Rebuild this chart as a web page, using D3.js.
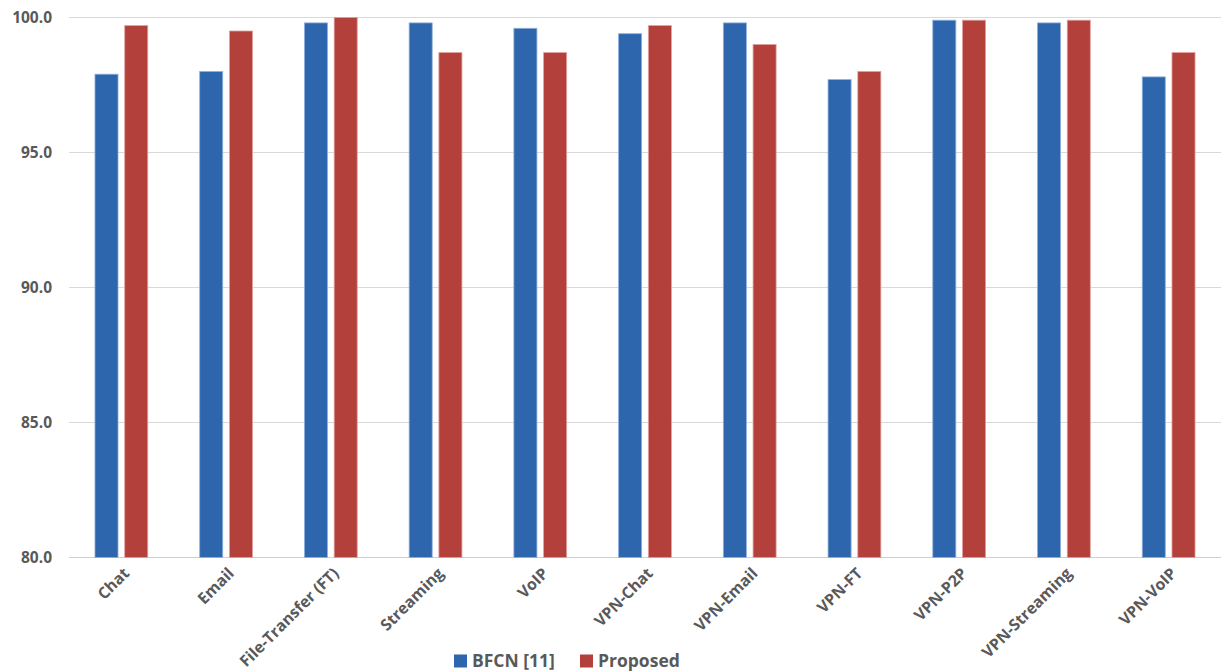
<!DOCTYPE html>
<html>
<head>
<meta charset="utf-8">
<script src="https://cdn.jsdelivr.net/npm/d3@7"></script>
<style>
  html, body { margin: 0; padding: 0; background: #fff; }
  svg { display: block; }
  text { font-family: "Open Sans", Lato, sans-serif; font-weight: 700; fill: #595959; }
</style>
</head>
<body>
<svg id="chart" width="1221" height="671"></svg>
<script>
// Traffic classes and accuracy (%) per method
const categories = ["Chat", "Email", "File-Transfer (FT)", "Streaming", "VoIP", "VPN-Chat",
                    "VPN-Email", "VPN-FT", "VPN-P2P", "VPN-Streaming", "VPN-VoIP"];
const seriesNames = ["BFCN [11]", "Proposed"];
const bfcnValues = [97.9, 98.0, 99.8, 99.8, 99.6, 99.4, 99.8, 97.7, 99.9, 99.8, 97.8];
const proposedValues = [99.7, 99.5, 100.0, 98.7, 98.7, 99.7, 99.0, 98.0, 99.9, 99.9, 98.7];
const yTicks = [80, 85, 90, 95, 100];
const colors = ["#2E66AD", "#B4403C"];

const svg = d3.select("#chart");
const margin = { left: 69, right: 0, top: 17.5, bottom: 113.5 };
const W = 1221, H = 671;
const FONT = "'Open Sans', Lato, sans-serif";

const x = d3.scaleBand().domain(categories).range([margin.left, W - margin.right]).padding(0);
const y = d3.scaleLinear().domain([80, 100]).range([H - margin.bottom, margin.top]);

const barW = x.bandwidth() * 0.22;
const gap = 6.7;

// horizontal gridlines
svg.append("g").selectAll("line").data(yTicks).join("line")
  .attr("x1", margin.left).attr("x2", W)
  .attr("y1", d => y(d)).attr("y2", d => y(d))
  .attr("stroke", d => d === 80 ? "#d0d0d0" : "#d9d9d9").attr("stroke-width", 1.2);

// y-axis labels
const yAxis = d3.axisLeft(y).tickValues(yTicks).tickFormat(d3.format(".1f")).tickSize(0).tickPadding(0);
const yg = svg.append("g").attr("transform", `translate(${52},0)`).call(yAxis);
yg.select(".domain").remove();
yg.selectAll("text").attr("font-size", 15.5).attr("dy", "0.34em")
  .style("font-family", FONT).style("font-weight", 700).attr("fill", "#595959");

// bars
const series = [bfcnValues, proposedValues];
series.forEach((vals, si) => {
  svg.append("g").selectAll("rect").data(categories).join("rect")
    .attr("x", d => {
      const c = x(d) + x.bandwidth() / 2;
      return si === 0 ? c - gap / 2 - barW : c + gap / 2;
    })
    .attr("y", (d, i) => y(vals[i]))
    .attr("width", barW)
    .attr("height", (d, i) => y(80) - y(vals[i]))
    .attr("fill", colors[si])
    .attr("stroke", si === 0 ? "#8fb0dc" : "#e0a09d")
    .attr("stroke-width", 0.8);
});

// category labels, rotated
const xAxis = d3.axisBottom(x).tickSize(0).tickPadding(0);
const xg = svg.append("g").attr("transform", `translate(0,${y(80)})`).call(xAxis);
xg.select(".domain").remove();
xg.selectAll("text")
  .attr("font-size", 15.8)
  .style("font-family", FONT).style("font-weight", 700).attr("fill", "#595959")
  .attr("text-anchor", "end")
  .attr("dy", "0.35em")
  .attr("transform", "translate(5,13) rotate(-45)");

// legend
const legend = svg.append("g").attr("transform", "translate(454,661)");
const legendX = [0, 126];
seriesNames.forEach((name, i) => {
  const g = legend.append("g").attr("transform", `translate(${legendX[i]},0)`);
  g.append("rect").attr("x", 0).attr("y", -6.5).attr("width", 13).attr("height", 13).attr("fill", colors[i]);
  g.append("text").attr("x", 18).attr("y", 0).attr("dy", "0.36em").attr("font-size", 17.5).text(name);
});
</script>
</body>
</html>
